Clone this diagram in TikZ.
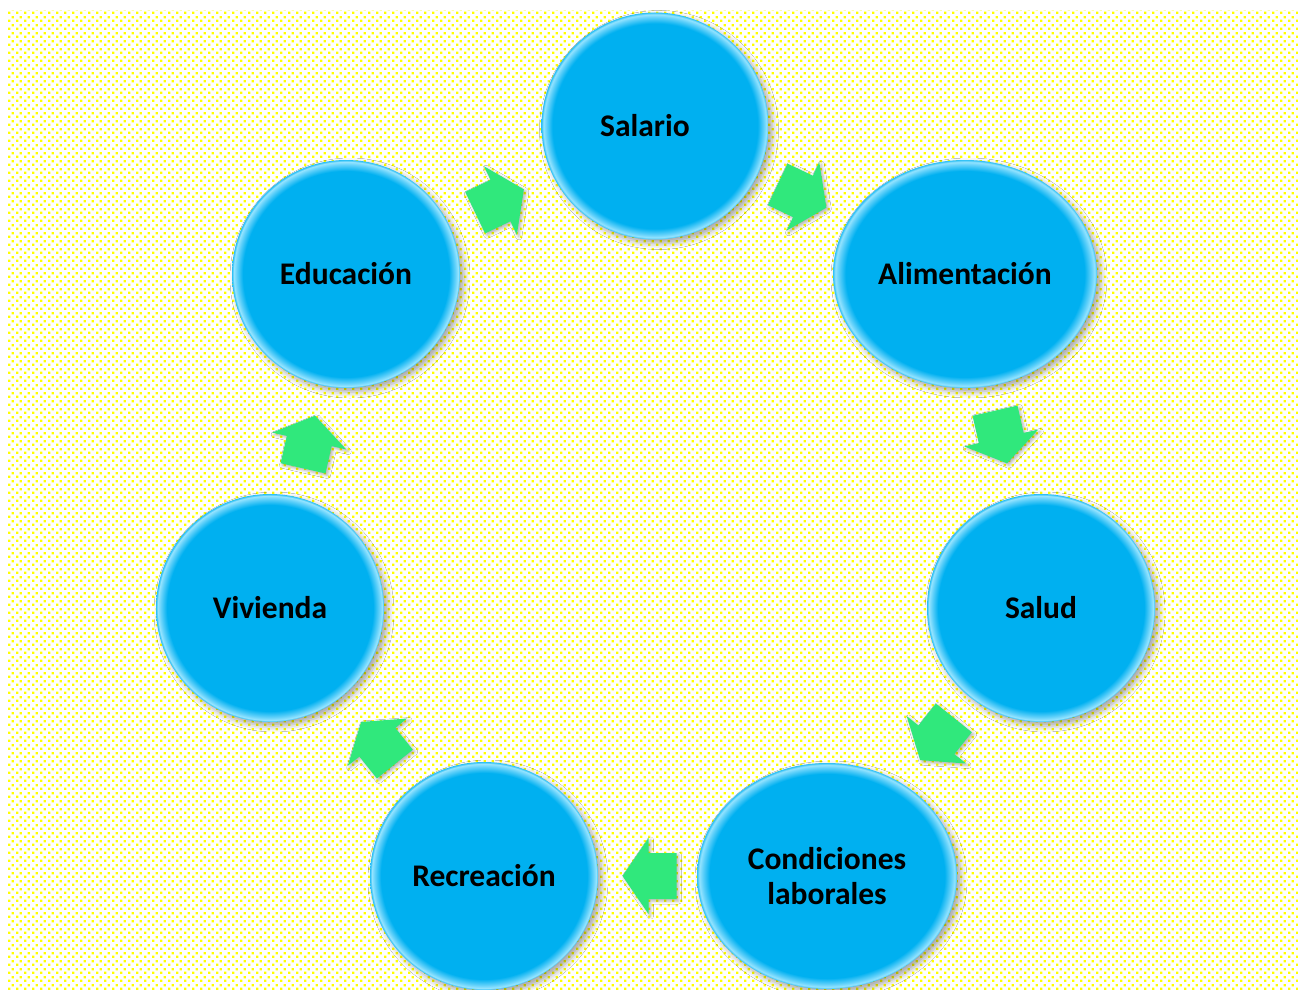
\documentclass[tikz,border=0pt]{standalone}
\usepackage{fontspec}
\setmainfont{Carlito}
\usetikzlibrary{shapes.geometric,shadows.blur,patterns,calc}
\definecolor{cbase}{RGB}{0,176,240}
\definecolor{cring}{RGB}{95,208,250}
\definecolor{cringb}{RGB}{150,228,255}
\definecolor{cedge}{RGB}{40,190,245}
\definecolor{garrowc}{RGB}{48,232,124}
\definecolor{dotyellow}{RGB}{255,255,0}
\pgfdeclarepatternformonly{ydots}{\pgfpointorigin}{\pgfpoint{8bp}{8bp}}{\pgfpoint{8bp}{8bp}}{%
  \pgfpathrectangle{\pgfpoint{0bp}{0bp}}{\pgfpoint{2.7bp}{2.7bp}}%
  \pgfpathrectangle{\pgfpoint{4bp}{4bp}}{\pgfpoint{2.7bp}{2.7bp}}%
  \pgfusepath{fill}}
\pgfdeclareradialshading{glassball}{\pgfpoint{0bp}{0bp}}{%
  color(0bp)=(cbase); color(22.6bp)=(cbase); color(23.9bp)=(cring); color(24.6bp)=(cringb); color(25bp)=(cedge); color(50bp)=(cedge)}
\tikzset{
  ball/.style={ellipse, inner sep=0pt, shade, shading=glassball,
    blur shadow={shadow xshift=4bp, shadow yshift=-4bp, shadow blur radius=6bp, shadow opacity=35},
    text=black, align=center, font=\fontsize{31.5bp}{34.5bp}\selectfont\bfseries},
  garrow/.pic={
    \fill[garrowc, blur shadow={shadow xshift=2bp, shadow yshift=-2bp, shadow blur radius=3bp, shadow opacity=30}]
      (-27,-23) -- (1,-23) -- (1,-38) -- (27,0) -- (1,38) -- (1,23) -- (-27,23) -- cycle;
  }
}
\begin{document}
\begin{tikzpicture}[x=1bp,y=-1bp]
\useasboundingbox (0,0) rectangle (1298,990);
\fill[white] (0,0) rectangle (1298,990);
\fill[pattern=ydots, pattern color=dotyellow] (6,10) rectangle (1298,990);

\node[ball, minimum width=227bp, minimum height=227bp] (sal) at (655,126) {Salario\hspace*{20bp}};
\node[ball, minimum width=264bp, minimum height=228bp] (ali) at (965,274) {Alimentación};
\node[ball, minimum width=228bp, minimum height=228bp] (sld) at (1041,608) {Salud};
\node[ball, minimum width=260bp, minimum height=226bp] (cond) at (827,876) {Condiciones\\laborales};
\node[ball, minimum width=228bp, minimum height=228bp] (rec) at (484,876) {Recreación};
\node[ball, minimum width=228bp, minimum height=228bp] (viv) at (270,608) {Vivienda};
\node[ball, minimum width=228bp, minimum height=228bp] (edu) at (346,274) {Educación};

\foreach \a/\b/\dx/\dy in {edu/sal/-1/1,sal/ali/-8/-4,ali/sld/-2/-4,sld/cond/3/-3,cond/rec/-6/0,rec/viv/1/1,viv/edu/1/1}{
  \path let \p1=($(\b.center)-(\a.center)$), \n1={atan2(\y1,\x1)} in
    pic[rotate=\n1] at ($($(\a.center)!0.5!(\b.center)$)+(\dx,\dy)$) {garrow};
}
\end{tikzpicture}
\end{document}
